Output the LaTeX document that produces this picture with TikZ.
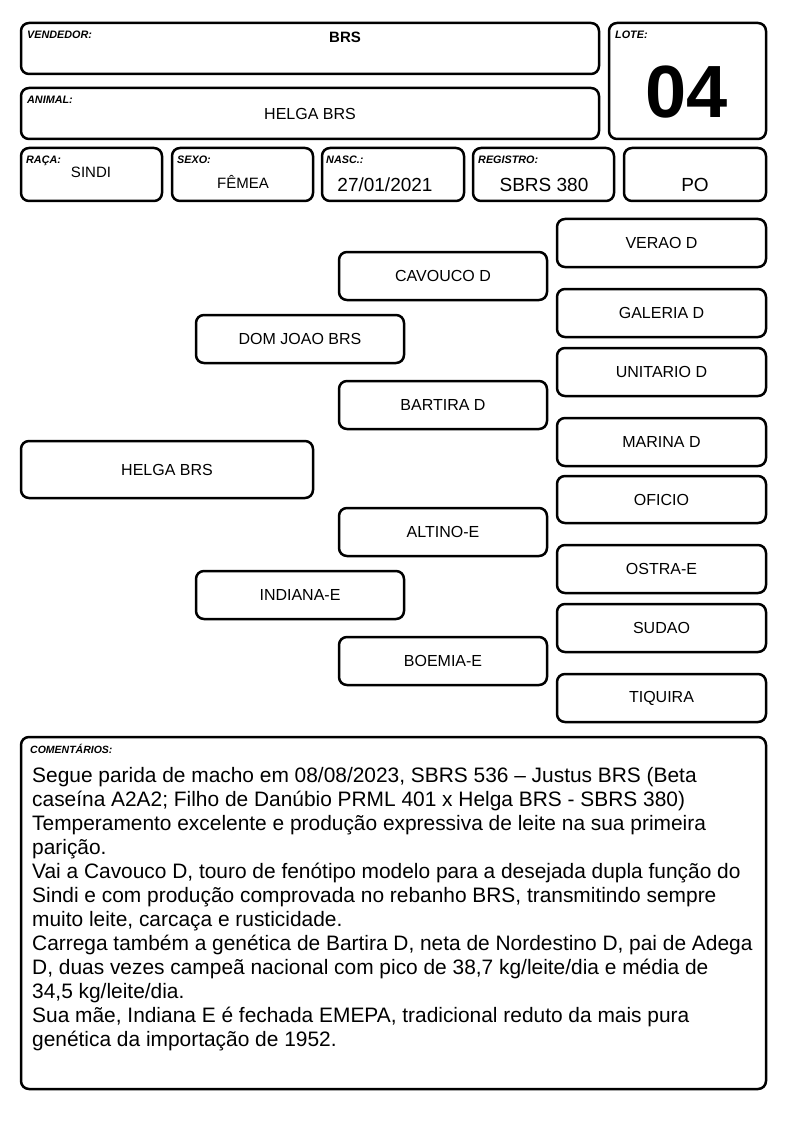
\documentclass[tikz,border=0pt]{standalone}
\usepackage{fontspec}
\setmainfont{Liberation Sans}
\begin{document}
\begin{tikzpicture}[x=1pt,y=-1pt,
  box/.style={draw, line width=2.5pt, rounded corners=8pt, inner sep=0pt, outer sep=0pt},
  ped/.style={box, minimum width=208pt, minimum height=48pt, font=\fontsize{16}{18}\selectfont},
  rped/.style={ped, minimum width=209pt},
  lab/.style={anchor=base west, inner sep=0pt, font=\fontsize{10.8}{12}\selectfont\bfseries\itshape},
  val/.style={anchor=base, inner sep=0pt, font=\fontsize{19}{22}\selectfont},
  cline/.style={anchor=base west, inner sep=0pt, font=\fontsize{20.9}{24}\selectfont}]
\useasboundingbox (0,0) rectangle (794,1123);
% header
\node[box, minimum width=578pt, minimum height=51pt] (vend) at (310,48.5) {};
\node[box, minimum width=578pt, minimum height=51pt] (anim) at (310,113.5) {};
\node[box, minimum width=157pt, minimum height=116pt] (lote) at (687.5,81) {};
\node[box, minimum width=141pt, minimum height=53pt] (raca) at (91.5,174.5) {};
\node[box, minimum width=141pt, minimum height=53pt] (sexo) at (242.5,174.5) {};
\node[box, minimum width=142pt, minimum height=53pt] (nasc) at (393,174.5) {};
\node[box, minimum width=141pt, minimum height=53pt] (regi) at (543.5,174.5) {};
\node[box, minimum width=142pt, minimum height=53pt] (po) at (695,174.5) {};
\node[lab] (lvend) at (27,39) {VENDEDOR:};
\node[lab] (lanim) at (27,104) {ANIMAL:};
\node[lab] (llote) at (615,39) {LOTE:};
\node[lab] (lraca) at (26,164) {RAÇA:};
\node[lab] (lsexo) at (177,164) {SEXO:};
\node[lab] (lnasc) at (326,164) {NASC.:};
\node[lab] (lregi) at (478,164) {REGISTRO:};
\node[anchor=base, inner sep=0pt, font=\fontsize{15}{17}\selectfont\bfseries] (tvend) at (345,43) {BRS};
\node[anchor=base, inner sep=0pt, font=\fontsize{16}{18}\selectfont] (tanim) at (310,120) {HELGA BRS};
\node[anchor=base, inner sep=0pt, font=\fontsize{74}{80}\selectfont\bfseries] (tlote) at (687,118) {04};
\node[anchor=base, inner sep=0pt, font=\fontsize{15}{17}\selectfont] (traca) at (91,178) {SINDI};
\node[anchor=base, inner sep=0pt, font=\fontsize{15}{17}\selectfont] (tsexo) at (243,189) {FÊMEA};
\node[val] (tnasc) at (385,192) {27/01/2021};
\node[val] (tregi) at (544,192) {SBRS 380};
\node[val] (tpo) at (695,192) {PO};
% pedigree
\node[box, minimum width=292pt, minimum height=57pt, font=\fontsize{16}{18}\selectfont] (helga) at (167,469.5) {HELGA BRS};
\node[ped] (domjoao) at (300,339) {DOM JOAO BRS};
\node[ped] (indiana) at (300,595) {INDIANA-E};
\node[ped] (cavouco) at (443,276) {CAVOUCO D};
\node[ped] (bartira) at (443,405) {BARTIRA D};
\node[ped] (altino) at (443,532) {ALTINO-E};
\node[ped] (boemia) at (443,661) {BOEMIA-E};
\node[rped] (verao) at (661.5,243) {VERAO D};
\node[rped] (galeria) at (661.5,313) {GALERIA D};
\node[rped] (unitario) at (661.5,372) {UNITARIO D};
\node[rped] (marina) at (661.5,442) {MARINA D};
\node[rped, minimum height=47pt] (oficio) at (661.5,499.5) {OFICIO};
\node[rped] (ostra) at (661.5,569) {OSTRA-E};
\node[rped] (sudao) at (661.5,628) {SUDAO};
\node[rped] (tiquira) at (661.5,698) {TIQUIRA};
% comments
\node[box, minimum width=745pt, minimum height=352pt] (coment) at (393.5,913) {};
\node[lab, font=\fontsize{10.5}{12}\selectfont\bfseries\itshape] (lcoment) at (30,753) {COMENTÁRIOS:};
\foreach \t [count=\i from 0] in {
  {Segue parida de macho em 08/08/2023, SBRS 536 – Justus BRS (Beta},
  {caseína A2A2; Filho de Danúbio PRML 401 x Helga BRS - SBRS 380)},
  {Temperamento excelente e produção expressiva de leite na sua primeira},
  {parição.},
  {Vai a Cavouco D, touro de fenótipo modelo para a desejada dupla função do},
  {Sindi e com produção comprovada no rebanho BRS, transmitindo sempre},
  {muito leite, carcaça e rusticidade.},
  {Carrega também a genética de Bartira D, neta de Nordestino D, pai de Adega},
  {D, duas vezes campeã nacional com pico de 38,7 kg/leite/dia e média de},
  {34,5 kg/leite/dia.},
  {Sua mãe, Indiana E é fechada EMEPA, tradicional reduto da mais pura},
  {genética da importação de 1952.}}
  \node[cline] (c\i) at (32,782+24*\i) {\t};
\end{tikzpicture}
\end{document}
